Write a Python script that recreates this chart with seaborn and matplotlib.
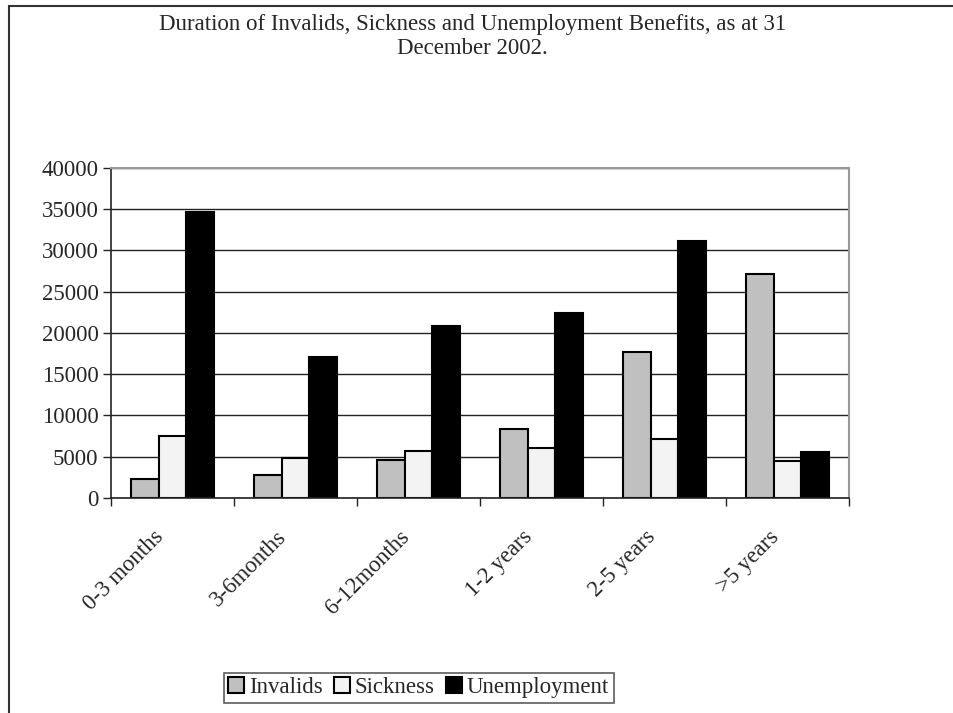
import matplotlib
matplotlib.use("Agg")
import matplotlib.pyplot as plt
import matplotlib.transforms as mtransforms
import seaborn as sns
import pandas as pd
from matplotlib.patches import Rectangle

# data
periods = ['0-3 months', '3-6months', '6-12months', '1-2 years', '2-5 years', '>5 years']
invalids = [2300, 2800, 4600, 8400, 17700, 27100]
sickness = [7500, 4900, 5700, 6000, 7100, 4500]
unemployment = [34700, 17100, 20900, 22400, 31200, 5600]
benefits = ['Invalids', 'Sickness', 'Unemployment']
colors = ['#c0c0c0', '#f3f3f3', '#000000']

rows = []
for name, vals in zip(benefits, [invalids, sickness, unemployment]):
    for p, v in zip(periods, vals):
        rows.append({'period': p, 'benefit': name, 'value': v})
df = pd.DataFrame(rows)

sns.set_style('white')
plt.rcParams['font.family'] = ['Liberation Serif', 'DejaVu Serif']
fs = 16.5

fig = plt.figure(figsize=(9.54, 7.13), dpi=100)
ax = fig.add_axes([0.1164, 0.3016, 0.7736, 0.4628])

sns.barplot(data=df, x='period', y='value', hue='benefit', order=periods,
            hue_order=benefits, palette=colors, edgecolor='black',
            linewidth=1.5, width=0.68, gap=0, ax=ax, saturation=1)
ax.get_legend().remove()

ax.set_xlim(-0.5, 5.5)
ax.set_ylim(0, 40000)
ax.set_yticks(range(0, 40001, 5000))
ax.yaxis.grid(True, color='#222222', linewidth=1)
ax.set_axisbelow(True)
ax.set_xlabel('')
ax.set_ylabel('')

for s in ['top', 'right']:
    ax.spines[s].set_color('#999999')
    ax.spines[s].set_linewidth(1.5)
for s in ['left', 'bottom']:
    ax.spines[s].set_color('#222222')
    ax.spines[s].set_linewidth(1.2)

ax.tick_params(axis='y', direction='out', length=6, width=1, color='#222222',
               left=True, labelsize=fs, pad=3)
ax.set_xticks(range(len(periods)))
ax.set_xticklabels(periods, rotation=45, ha='right', va='center',
                   rotation_mode='anchor', fontsize=fs)
ax.tick_params(axis='x', which='major', length=0, pad=26)
shift = mtransforms.ScaledTranslation(-12 / 100, 0, fig.dpi_scale_trans)
for lab in ax.get_xticklabels():
    lab.set_transform(lab.get_transform() + shift)
ax.set_xticks([i - 0.5 for i in range(len(periods) + 1)], minor=True)
ax.tick_params(axis='x', which='minor', direction='out', length=6, width=1,
               color='#222222', bottom=True)

fig.text(0.495, 0.981,
         'Duration of Invalids, Sickness and Unemployment Benefits, as at 31\nDecember 2002.',
         ha='center', va='top', fontsize=fs, linespacing=1.2)

handles = [Rectangle((0, 0), 1, 1, facecolor=c, edgecolor='black', linewidth=1.5)
           for c in colors]
leg = fig.legend(handles, benefits, loc='center', bbox_to_anchor=(0.439, 0.0355),
                 ncol=3, fontsize=fs, frameon=True, fancybox=False,
                 handlelength=0.7, handleheight=0.7, handletextpad=0.2,
                 columnspacing=0.5, borderpad=0.2, borderaxespad=0)
leg.get_frame().set_edgecolor('#333333')
leg.get_frame().set_linewidth(1.2)

fig.add_artist(Rectangle((9 / 954, -0.2), 1.2, 0.2 + 1 - 6 / 713, fill=False,
                         edgecolor='#333333', linewidth=1.5,
                         transform=fig.transFigure))

fig.savefig('out.png', dpi=100)
